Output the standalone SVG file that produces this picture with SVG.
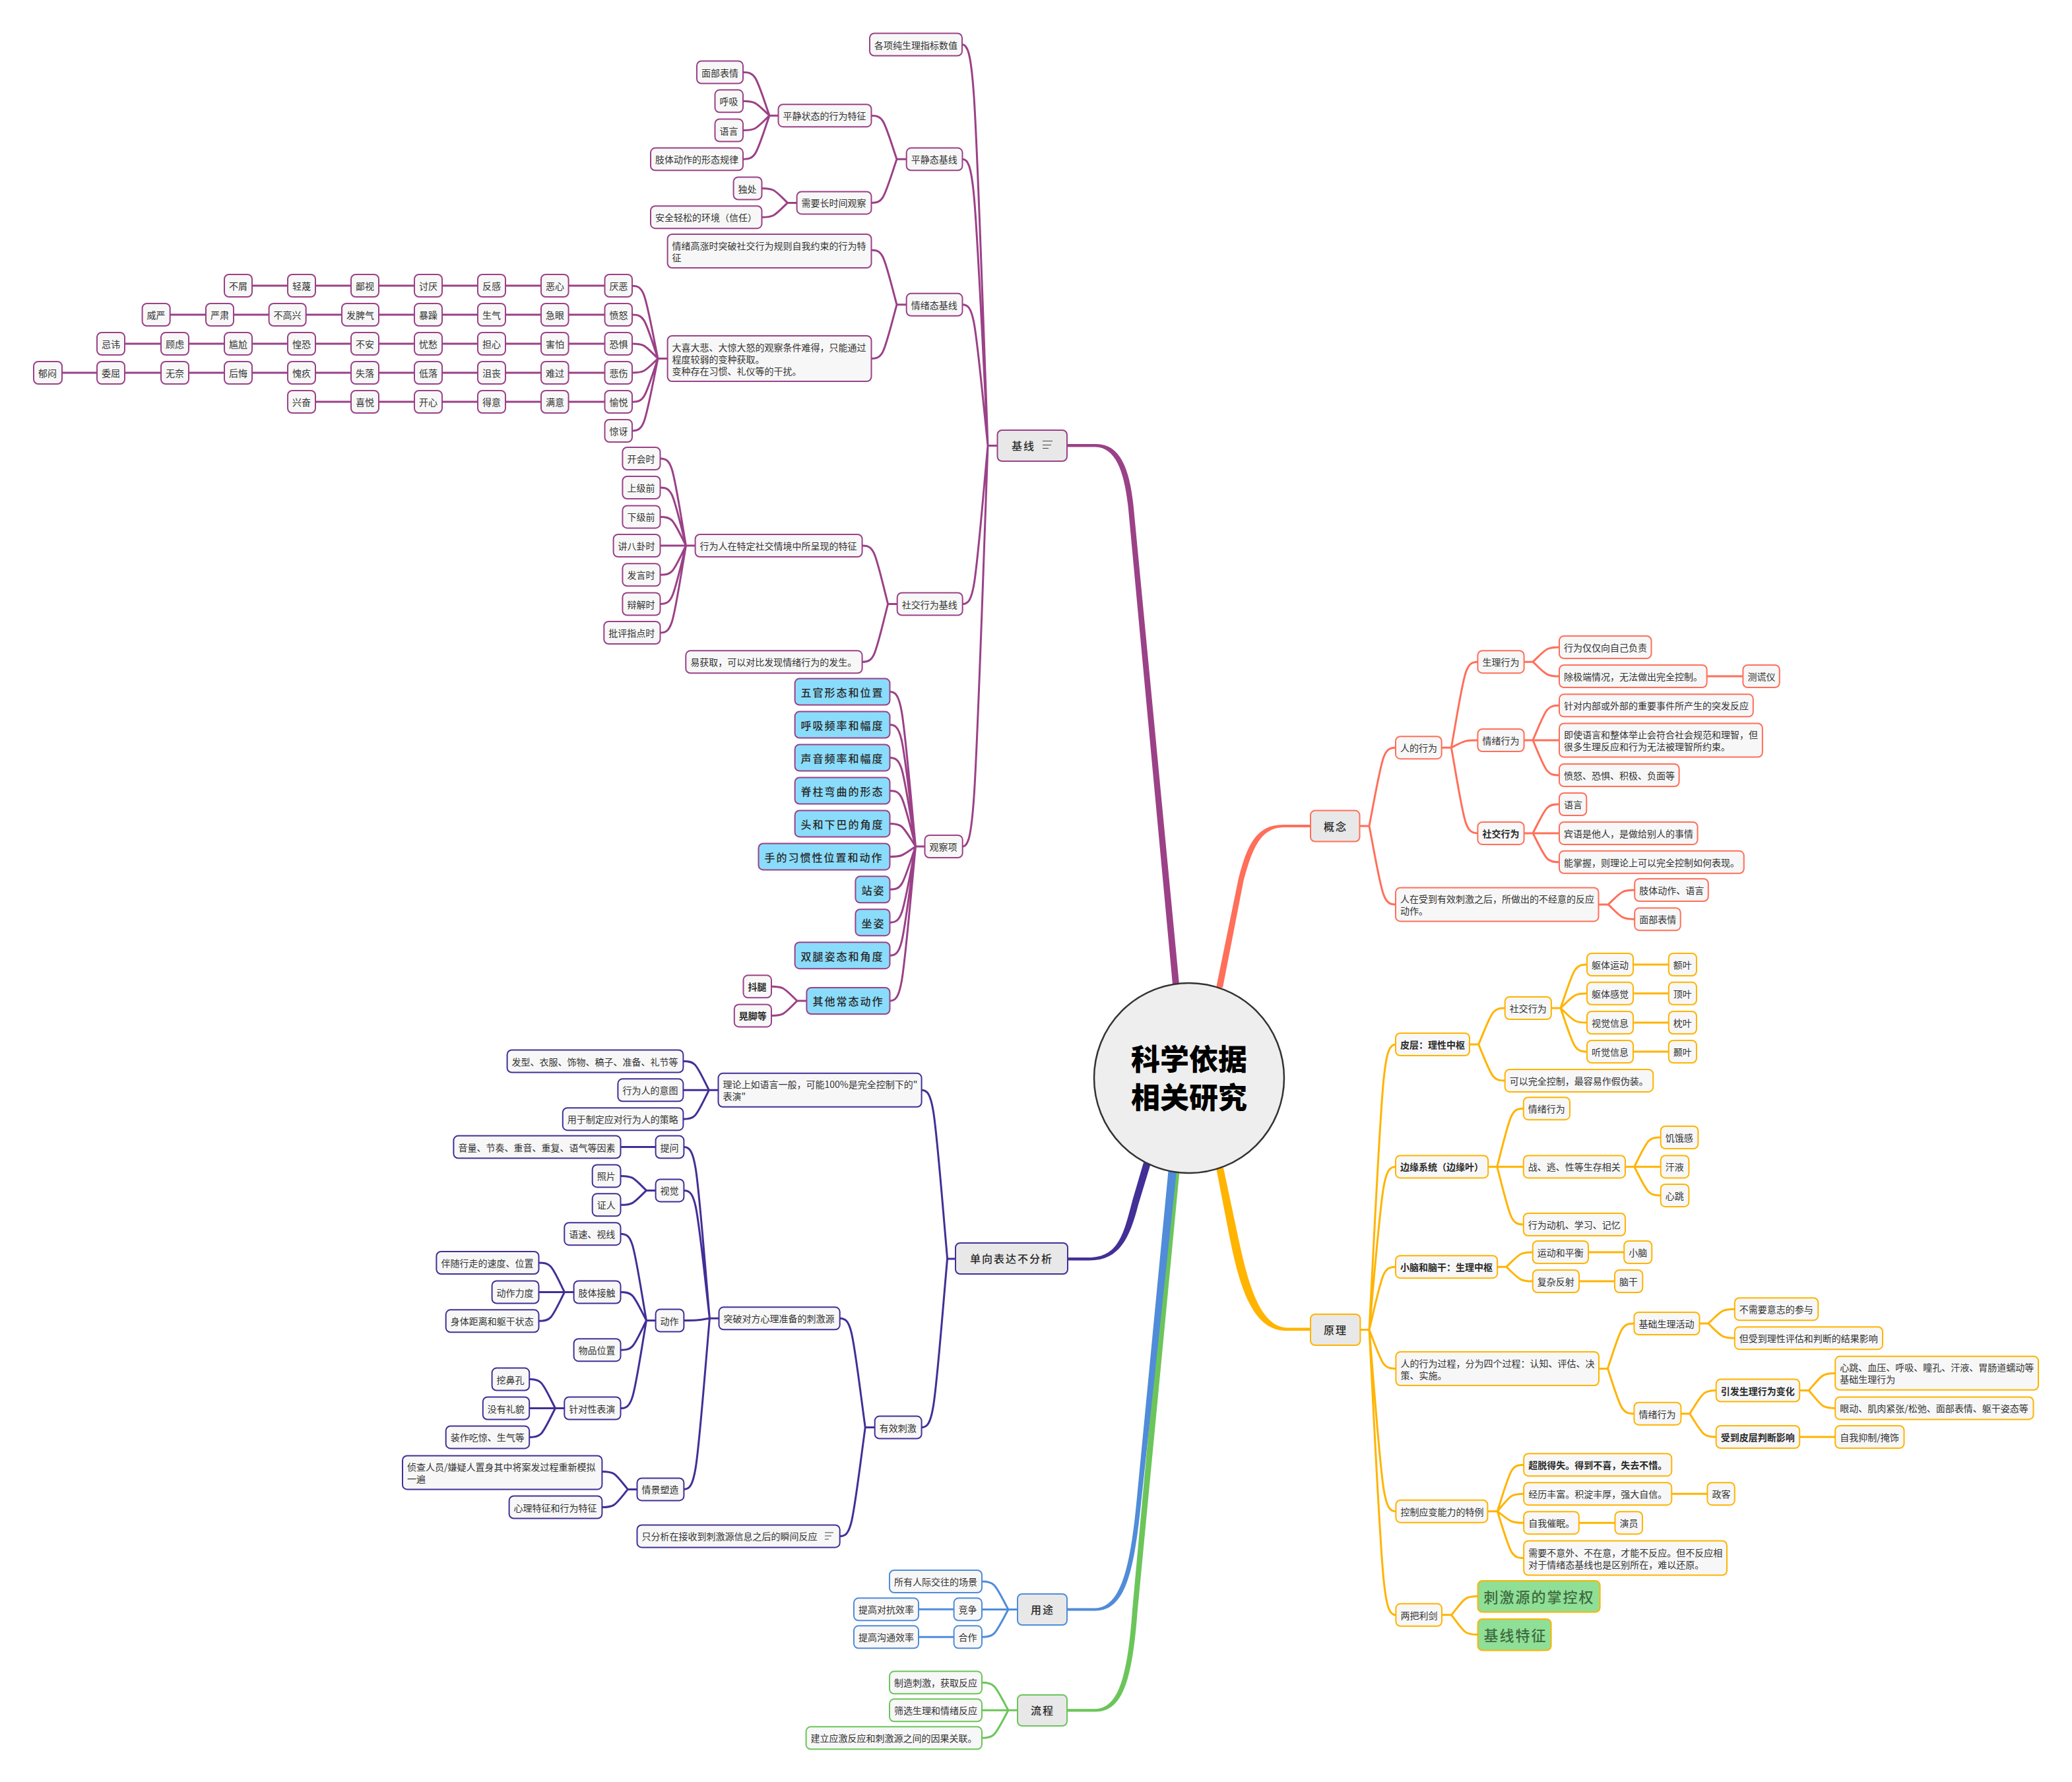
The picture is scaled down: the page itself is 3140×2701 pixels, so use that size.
<svg xmlns="http://www.w3.org/2000/svg" width="3140" height="2701" viewBox="0 0 3140 2701">
<style>
text{font-family:"Noto Sans CJK SC","Noto Sans",sans-serif;font-size:14px;fill:#333;transform:translateY(1px)}
rect{rx:7px;fill:#f7f7f7;stroke-width:2}
.pu rect{stroke:#9b4187}.na rect{stroke:#432f96}.bl rect{stroke:#508cd9}.gr rect{stroke:#6cc55a}.re rect{stroke:#ff6f5a}.or rect{stroke:#ffb400}
.cp{stroke:#9b4187}.cn{stroke:#432f96}.cb{stroke:#508cd9}.cg{stroke:#6cc55a}.cr{stroke:#ff6f5a}.co{stroke:#ffb400}
#connectors path{fill:none;stroke-width:3;stroke-linecap:round}
#connectors path.fp{fill:#9b4187;stroke:none}
#connectors path.fn{fill:#432f96;stroke:none}
#connectors path.fb{fill:#508cd9;stroke:none}
#connectors path.fg{fill:#6cc55a;stroke:none}
#connectors path.fr{fill:#ff6f5a;stroke:none}
#connectors path.fo{fill:#ffb400;stroke:none}
rect.top{fill:#e8e8e8}
rect.sky{fill:#8adcfb}
rect.lime{fill:#8fdf97}
.h{font-size:16px;letter-spacing:2px;font-weight:500;fill:#2a2a2a}
.g{font-size:22px;letter-spacing:2px;font-weight:500;fill:#3f6b3f}
.b{font-weight:700;fill:#2a2a2a}
.ic{stroke:#444;stroke-width:1.2;fill:none}
#root circle{fill:#eee;stroke:#333;stroke-width:2.5}
#root text{font-size:44px;font-weight:900;fill:#000;text-anchor:middle}
</style>
<g id="connectors">
<g class="cp">
<path class="fp" d="M1617 673H1660C1698 672 1712.5 712 1718 770L1787 1492H1777L1710 772C1704.5 718 1692 678 1660 677.5H1617Z"/>
<path class="cp" d="M1511.5 675.5H1497M1458 67.5c19.5 0 19.5 73 39 608M1458.5 241.3c19 0 19 52 38.5 434M1458.5 461.8c19 0 19 26 38.5 213.7M1458.7 915.5c19 0 19 -29 38.3 -240M1458.7 1283c19 0 19 -73 38.3 -607.5"/>
<path class="cp" d="M1373.7 241.3H1359M1320.5 175.2c19 0 19 8 38.5 66.1M1320.5 307.4c19 0 19 -8 38.5 -66.1"/>
<path class="cp" d="M1179.5 175.2H1166M1126 109.5c20 0 20 8 40 65.7M1126 153.3c20 0 20 3 40 21.9M1126 197.5c20 0 20 -3 40 -22.3M1126 241.3c20 0 20 -8 40 -66.1"/>
<path class="cp" d="M1207.6 307.4H1193.5M1154.5 285.5c19.5 0 19.5 3 39 21.9M1154.5 329.2c19.5 0 19.5 -3 39 -21.8"/>
<path class="cp" d="M1373.7 461.8H1359M1320.5 379c19 0 19 10 38.5 82.8M1320.5 543.5c19 0 19 -10 38.5 -81.7"/>
<path class="cp" d="M1011.6 543.5H997M958 433.2c19.5 0 19.5 13 39 110.3M958 477.1c19.5 0 19.5 8 39 66.4M958 521c19.5 0 19.5 3 39 22.5M958 564.9c19.5 0 19.5 -3 39 -21.4M958 609.2c19.5 0 19.5 -8 39 -65.7M958 653c19.5 0 19.5 -13 39 -109.5"/>
<path class="cp" d="M861.6 433H916.5M766 433H820M670 433H724M574 433H628M478 433H532M382 433H436"/>
<path class="cp" d="M861.6 477H916.5M766 477H820M670 477H724M574 477H628M463.7 477H518M354 477H407.6M257.7 477H312"/>
<path class="cp" d="M861.6 521H916.5M766 521H820M670 521H724M574 521H628M478 521H532M382 521H436M286 521H340M189 521H244"/>
<path class="cp" d="M861.6 565H916.5M766 565H820M670 565H724M574 565H628M478 565H532M382 565H436M286 565H340M189 565H244M94 565H147"/>
<path class="cp" d="M861.6 609H916.5M766 609H820M670 609H724M574 609H628M478 609H532"/>
<path class="cp" d="M1359.7 915.5H1345.5M1306.6 827c19.5 0 19.5 11 39 88.5M1306.6 1003.3c19.5 0 19.5 -11 39 -87.8"/>
<path class="cp" d="M1053.6 827H1000.5M1000.5 695c19.5 0 19.5 16 39 132M1000.5 739c19.5 0 19.5 11 39 88M1000.5 783.4c19.5 0 19.5 5 39 43.6M1000.5 871.3c19.5 0 19.5 -5 39 -44.3M1000.5 915.5c19.5 0 19.5 -11 39 -88.5M1000.5 959c19.5 0 19.5 -16 39 -132"/>
<path class="cp" d="M1401.5 1283H1387.5M1348.5 1048.6c19.5 0 19.5 28 39 234.4M1348.5 1098.6c19.5 0 19.5 22 39 184.4M1348.5 1148.5c19.5 0 19.5 16 39 134.5M1348.5 1198.5c19.5 0 19.5 10 39 84.5M1348.5 1248.4c19.5 0 19.5 4 39 34.6M1348.5 1298.4c19.5 0 19.5 -2 39 -15.4M1348.5 1348.3c19.5 0 19.5 -8 39 -65.3M1348.5 1398.2c19.5 0 19.5 -14 39 -115.2M1348.5 1448.2c19.5 0 19.5 -20 39 -165.2M1348.5 1517c19.5 0 19.5 -28 39 -234"/>
<path class="cp" d="M1222.4 1517H1208M1169 1495.3c19.5 0 19.5 3 39 21.7M1169 1539.4c19.5 0 19.5 -3 39 -22.4"/>
</g>
<g class="cn">
<path class="fn" d="M1618 1906H1650C1695 1906 1703 1870 1716 1820L1733 1762L1743.5 1765L1725 1826C1712 1876 1697 1911 1650 1910.5H1618Z"/>
<path class="cn" d="M1448 1908H1435.5M1396.6 1652.3c19.5 0 19.5 31 39 255.2M1396.6 2163.6c19.5 0 19.5 -31 39 -256.1"/>
<path class="cn" d="M1325.7 2163.6H1311M1272.7 1998.3c19 0 19 20 38.5 165.3M1272.7 2328.4c19 0 19 -20 38.5 -164.8"/>
<path class="cn" d="M1088.5 1652.3H1035.4M1035.4 1608.5c19.5 0 19.5 5 39 43.8M1035.4 1696.2c19.5 0 19.5 -5 39 -43.9"/>
<path class="cn" d="M1089.5 1998.3H1075.5M1036.4 1738.6c19.5 0 19.5 31 39 259.7M1036.4 1804.4c19.5 0 19.5 23 39 193.9M1036.4 2001.5c19.5 0 19.5 0 39 -3.2M1036.4 2257.4c19.5 0 19.5 -31 39 -259.1"/>
<path class="cn" d="M940.5 1738.6H993.6"/>
<path class="cn" d="M993.6 1804.4H979.5M940.5 1782.4c19.5 0 19.5 3 39 22M940.5 1826.3c19.5 0 19.5 -3 39 -21.9"/>
<path class="cn" d="M993.6 2001.5H979.5M940.5 1870.2c19.5 0 19.5 16 39 131.3M940.5 1958.5c19.5 0 19.5 5 39 43M940.5 2046.2c19.5 0 19.5 -5 39 -44.7M940.5 2134.5c19.5 0 19.5 -16 39 -133"/>
<path class="cn" d="M869.6 1958.5H816.5M816.5 1914c19.5 0 19.5 5 39 44.5M816.5 2002.3c19.5 0 19.5 -5 39 -43.8"/>
<path class="cn" d="M855.3 2134.5H802.2M802.2 2090.6c19.5 0 19.5 5 39.3 43.9M802.2 2178.4c19.5 0 19.5 -5 39.3 -43.9"/>
<path class="cn" d="M965.5 2257.4H951.5M912.4 2230.4c19.5 0 19.5 3 39 27M912.4 2284.5c19.5 0 19.5 -3 39 -27.1"/>
</g>
<g class="cg">
<path class="fg" d="M1617 2590.3H1660C1695 2589 1709 2540 1716 2440L1776.5 1775H1787.5L1724 2440C1716 2545 1702 2594.5 1660 2594.5H1617Z"/>
<path class="cg" d="M1542 2592.3H1488M1488 2550.3c20 0 20 5 40 42M1488 2634.3c20 0 20 -5 40 -42"/>
</g>
<g class="cb">
<path class="fb" d="M1617 2437.5H1660C1700 2436 1713 2370 1722 2280L1770.5 1775H1783L1729 2280C1718 2385 1705 2441 1660 2441.5H1617Z"/>
<path class="cb" d="M1542 2439.5H1488M1488 2397c20 0 20 5 40 42.5M1488 2481.3c20 0 20 -5 40 -41.8M1392 2439.3H1445.6M1392 2481.3H1445.6"/>
</g>
<g class="cr">
<path class="fr" d="M1986 1250H1945C1902 1249.5 1889 1285 1877 1331L1843 1497H1853L1884.5 1335C1897 1289 1909 1254.5 1945 1254H1986Z"/>
<path class="cr" d="M2060.5 1252H2075M2115 1133.2c-20 0 -20 14 -40 118.8M2115 1370.9c-20 0 -20 -14 -40 -118.9"/>
<path class="cr" d="M2184.7 1133.2H2199M2239.4 1003.2c-20 0 -20 16 -40 130M2239.4 1122c-20 0 -20 1 -40 11.2M2239.4 1262.9c-20 0 -20 -16 -40 -129.7"/>
<path class="cr" d="M2309.6 1003.2H2323M2363 981c-20 0 -20 3 -40 22.2M2363 1025c-20 0 -20 -3 -40 -21.8M2586.7 1025H2641.4"/>
<path class="cr" d="M2309.6 1122H2363M2363 1069.3c-20 0 -20 6 -40 52.7M2363 1175c-20 0 -20 -6 -40 -53"/>
<path class="cr" d="M2309.6 1262.9H2363M2363 1219c-20 0 -20 5 -40 43.9M2363 1306.8c-20 0 -20 -5 -40 -43.9"/>
<path class="cr" d="M2422.5 1370.9H2437M2477.2 1349c-20 0 -20 3 -40 21.9M2477.2 1393.2c-20 0 -20 -3 -40 -22.3"/>
</g>
<g class="co">
<path class="fo" d="M1843 1770H1854L1871 1850C1887 1925 1903 2010 1950 2012.5H1986V2017H1950C1893 2018 1875 1935 1860 1858Z"/>
<path class="co" d="M2061.4 2015.6H2075M2115 1583c-20 0 -20 52 -40 432.6M2115 1768.4c-20 0 -20 30 -40 247.2M2115 1920.2c-20 0 -20 11 -40 95.4M2115 2074.4c-20 0 -20 -7 -40 -58.8M2115 2290.7c-20 0 -20 -33 -40 -275.1M2115 2447.8c-20 0 -20 -52 -40 -432.2"/>
<path class="co" d="M2227 1583H2241M2280.7 1528c-20 0 -20 7 -40 55M2280.7 1637.9c-20 0 -20 -7 -40 -54.9"/>
<path class="co" d="M2350.9 1528H2365M2405 1462c-20 0 -20 8 -40 66M2405 1505.8c-20 0 -20 3 -40 22.2M2405 1550c-20 0 -20 -3 -40 -22M2405 1594c-20 0 -20 -8 -40 -66"/>
<path class="co" d="M2475 1462H2528.8M2475 1505.8H2528.8M2475 1550H2528.8M2475 1594H2528.8"/>
<path class="co" d="M2255.2 1768.4H2308.8M2308.8 1680.2c-20 0 -20 11 -40 88.2M2308.8 1856c-20 0 -20 -11 -40 -87.6"/>
<path class="co" d="M2463 1768.4H2516.7M2516.7 1724c-20 0 -20 5 -40 44.4M2516.7 1811.9c-20 0 -20 -5 -40 -43.5"/>
<path class="co" d="M2269.2 1920.2H2283M2322.8 1898c-20 0 -20 3 -40 22.2M2322.8 1942c-20 0 -20 -3 -40 -21.8M2407 1898H2461.2M2393 1942H2447"/>
<path class="co" d="M2423 2074.4H2437M2476.4 2006c-20 0 -20 8 -40 68.4M2476.4 2142.7c-20 0 -20 -8 -40 -68.3"/>
<path class="co" d="M2575.5 2006H2589M2628.8 1984.2c-20 0 -20 3 -40 21.8M2628.8 2028.2c-20 0 -20 -3 -40 -22.2"/>
<path class="co" d="M2547.4 2142.7H2561M2600.7 2107.5c-20 0 -20 4 -40 35.2M2600.7 2178c-20 0 -20 -4 -40 -35.3"/>
<path class="co" d="M2727.2 2107.5H2741M2781.2 2081.4c-20 0 -20 3 -40 26.1M2781.2 2134.4c-20 0 -20 -3 -40 -26.9M2727.2 2178H2781.2"/>
<path class="co" d="M2254.4 2290.7H2268.5M2309.2 2220.2c-20 0 -20 8 -40 70.5M2309.2 2264.2c-20 0 -20 3 -40 26.5M2309.2 2308.2c-20 0 -20 -2 -40 -17.5M2309.2 2361.5c-20 0 -20 -8 -40 -70.8M2533.3 2264.2H2587.4M2392.8 2308.2H2447.5"/>
<path class="co" d="M2185 2447.8H2199M2239.6 2419.6c-20 0 -20 3 -40 28.2M2239.6 2477.6c-20 0 -20 -3 -40 -29.8"/>
</g>
</g>
<g id="root"><circle cx="1802" cy="1634" r="144"/><text x="1802" y="1621">科学依据</text><text x="1802" y="1679">相关研究</text></g>

<g id="nodes-baseline" class="pu">
<g id="p0"><rect class="top" x="1511.5" y="652" width="105.5" height="47"/><text class="h" x="1533" y="681">基线</text><path class="ic" d="M1580 668.5H1595M1580 674.5H1593M1580 679.5H1589"/></g>
<g id="p1"><rect x="1318" y="50.5" width="140" height="34"/><text x="1325" y="72.5">各项纯生理指标数值</text></g>
<g id="p2"><rect x="1373.7" y="224.3" width="84.8" height="34"/><text x="1380.7" y="246.3">平静态基线</text></g>
<g id="p3"><rect x="1179.5" y="158.2" width="141" height="34"/><text x="1186.5" y="180.2">平静状态的行为特征</text></g>
<g id="p4"><rect x="1056" y="92.5" width="70" height="34"/><text x="1063" y="114.5">面部表情</text></g>
<g id="p5"><rect x="1083.5" y="136.3" width="42.5" height="34"/><text x="1090.5" y="158.3">呼吸</text></g>
<g id="p6"><rect x="1083.5" y="180.5" width="42.5" height="34"/><text x="1090.5" y="202.5">语言</text></g>
<g id="p7"><rect x="986" y="224.3" width="140" height="34"/><text x="993" y="246.3">肢体动作的形态规律</text></g>
<g id="p8"><rect x="1207.6" y="290.4" width="112.9" height="34"/><text x="1214.6" y="312.4">需要长时间观察</text></g>
<g id="p9"><rect x="1111.6" y="268.5" width="42.9" height="34"/><text x="1118.6" y="290.5">独处</text></g>
<g id="p10"><rect x="986" y="312.2" width="168.5" height="34"/><text x="993" y="334.2">安全轻松的环境（信任）</text></g>
<g id="p11"><rect x="1373.7" y="444.8" width="84.8" height="34"/><text x="1380.7" y="466.8">情绪态基线</text></g>
<g id="p12"><rect x="1011.6" y="355" width="308.9" height="51"/><text x="1018.6" y="376.5">情绪高涨时突破社交行为规则自我约束的行为特</text><text x="1018.6" y="394.5">征</text></g>
<g id="p13"><rect x="1011.6" y="509" width="308.9" height="69"/><text x="1018.6" y="530.5">大喜大悲、大惊大怒的观察条件难得，只能通过</text><text x="1018.6" y="548.5">程度较弱的变种获取。</text><text x="1018.6" y="566.5">变种存在习惯、礼仪等的干扰。</text></g>
<g id="p14"><rect x="916.5" y="416" width="41.5" height="34"/><text x="923.5" y="438">厌恶</text></g>
<g id="p15"><rect x="820" y="416" width="41.6" height="34"/><text x="827" y="438">恶心</text></g>
<g id="p16"><rect x="724" y="416" width="42" height="34"/><text x="731" y="438">反感</text></g>
<g id="p17"><rect x="628" y="416" width="42" height="34"/><text x="635" y="438">讨厌</text></g>
<g id="p18"><rect x="532" y="416" width="42" height="34"/><text x="539" y="438">鄙视</text></g>
<g id="p19"><rect x="436" y="416" width="42" height="34"/><text x="443" y="438">轻蔑</text></g>
<g id="p20"><rect x="340" y="416" width="42" height="34"/><text x="347" y="438">不屑</text></g>
<g id="p21"><rect x="916.5" y="460" width="41.5" height="34"/><text x="923.5" y="482">愤怒</text></g>
<g id="p22"><rect x="820" y="460" width="41.6" height="34"/><text x="827" y="482">急眼</text></g>
<g id="p23"><rect x="724" y="460" width="42" height="34"/><text x="731" y="482">生气</text></g>
<g id="p24"><rect x="628" y="460" width="42" height="34"/><text x="635" y="482">暴躁</text></g>
<g id="p25"><rect x="518" y="460" width="56" height="34"/><text x="525" y="482">发脾气</text></g>
<g id="p26"><rect x="407.6" y="460" width="56.1" height="34"/><text x="414.6" y="482">不高兴</text></g>
<g id="p27"><rect x="312" y="460" width="42" height="34"/><text x="319" y="482">严肃</text></g>
<g id="p28"><rect x="215.6" y="460" width="42.1" height="34"/><text x="222.6" y="482">威严</text></g>
<g id="p29"><rect x="916.5" y="504" width="41.5" height="34"/><text x="923.5" y="526">恐惧</text></g>
<g id="p30"><rect x="820" y="504" width="41.6" height="34"/><text x="827" y="526">害怕</text></g>
<g id="p31"><rect x="724" y="504" width="42" height="34"/><text x="731" y="526">担心</text></g>
<g id="p32"><rect x="628" y="504" width="42" height="34"/><text x="635" y="526">忧愁</text></g>
<g id="p33"><rect x="532" y="504" width="42" height="34"/><text x="539" y="526">不安</text></g>
<g id="p34"><rect x="436" y="504" width="42" height="34"/><text x="443" y="526">惶恐</text></g>
<g id="p35"><rect x="340" y="504" width="42" height="34"/><text x="347" y="526">尴尬</text></g>
<g id="p36"><rect x="244" y="504" width="42" height="34"/><text x="251" y="526">顾虑</text></g>
<g id="p37"><rect x="147" y="504" width="42" height="34"/><text x="154" y="526">忌讳</text></g>
<g id="p38"><rect x="916.5" y="548" width="41.5" height="34"/><text x="923.5" y="570">悲伤</text></g>
<g id="p39"><rect x="820" y="548" width="41.6" height="34"/><text x="827" y="570">难过</text></g>
<g id="p40"><rect x="724" y="548" width="42" height="34"/><text x="731" y="570">沮丧</text></g>
<g id="p41"><rect x="628" y="548" width="42" height="34"/><text x="635" y="570">低落</text></g>
<g id="p42"><rect x="532" y="548" width="42" height="34"/><text x="539" y="570">失落</text></g>
<g id="p43"><rect x="436" y="548" width="42" height="34"/><text x="443" y="570">愧疚</text></g>
<g id="p44"><rect x="340" y="548" width="42" height="34"/><text x="347" y="570">后悔</text></g>
<g id="p45"><rect x="244" y="548" width="42" height="34"/><text x="251" y="570">无奈</text></g>
<g id="p46"><rect x="147" y="548" width="42" height="34"/><text x="154" y="570">委屈</text></g>
<g id="p47"><rect x="51" y="548" width="43" height="34"/><text x="58" y="570">郁闷</text></g>
<g id="p48"><rect x="916.5" y="592" width="41.5" height="34"/><text x="923.5" y="614">愉悦</text></g>
<g id="p49"><rect x="820" y="592" width="41.6" height="34"/><text x="827" y="614">满意</text></g>
<g id="p50"><rect x="724" y="592" width="42" height="34"/><text x="731" y="614">得意</text></g>
<g id="p51"><rect x="628" y="592" width="42" height="34"/><text x="635" y="614">开心</text></g>
<g id="p52"><rect x="532" y="592" width="42" height="34"/><text x="539" y="614">喜悦</text></g>
<g id="p53"><rect x="436" y="592" width="42" height="34"/><text x="443" y="614">兴奋</text></g>
<g id="p54"><rect x="916.5" y="636" width="41.5" height="34"/><text x="923.5" y="658">惊讶</text></g>
<g id="p55"><rect x="1359.7" y="898.5" width="99" height="34"/><text x="1366.7" y="920.5">社交行为基线</text></g>
<g id="p56"><rect x="1053.6" y="810" width="253" height="34"/><text x="1060.6" y="832">行为人在特定社交情境中所呈现的特征</text></g>
<g id="p57"><rect x="1039.3" y="986.3" width="267.3" height="34"/><text x="1046.3" y="1008.3">易获取，可以对比发现情绪行为的发生。</text></g>
<g id="p58"><rect x="943.4" y="678" width="57.1" height="34"/><text x="950.4" y="700">开会时</text></g>
<g id="p59"><rect x="943.4" y="722" width="57.1" height="34"/><text x="950.4" y="744">上级前</text></g>
<g id="p60"><rect x="943.4" y="766.4" width="57.1" height="34"/><text x="950.4" y="788.4">下级前</text></g>
<g id="p61"><rect x="929.6" y="810" width="70.9" height="34"/><text x="936.6" y="832">讲八卦时</text></g>
<g id="p62"><rect x="943.4" y="854.3" width="57.1" height="34"/><text x="950.4" y="876.3">发言时</text></g>
<g id="p63"><rect x="943.4" y="898.5" width="57.1" height="34"/><text x="950.4" y="920.5">辩解时</text></g>
<g id="p64"><rect x="915.3" y="942" width="85.2" height="34"/><text x="922.3" y="964">批评指点时</text></g>
<g id="p65"><rect x="1401.5" y="1266" width="57.2" height="34"/><text x="1408.5" y="1288">观察项</text></g>
<g id="p66"><rect class="sky" x="1204.6" y="1028.6" width="143.9" height="40"/><text class="h" x="1213.6" y="1054.5">五官形态和位置</text></g>
<g id="p67"><rect class="sky" x="1204.6" y="1078.6" width="143.9" height="40"/><text class="h" x="1213.6" y="1104.5">呼吸频率和幅度</text></g>
<g id="p68"><rect class="sky" x="1204.6" y="1128.5" width="143.9" height="40"/><text class="h" x="1213.6" y="1154.5">声音频率和幅度</text></g>
<g id="p69"><rect class="sky" x="1204.6" y="1178.5" width="143.9" height="40"/><text class="h" x="1213.6" y="1204.5">脊柱弯曲的形态</text></g>
<g id="p70"><rect class="sky" x="1204.6" y="1228.4" width="143.9" height="40"/><text class="h" x="1213.6" y="1254.5">头和下巴的角度</text></g>
<g id="p71"><rect class="sky" x="1149.5" y="1278.4" width="199" height="40"/><text class="h" x="1158.5" y="1304.5">手的习惯性位置和动作</text></g>
<g id="p72"><rect class="sky" x="1296.4" y="1328.3" width="52.1" height="40"/><text class="h" x="1305.4" y="1354.5">站姿</text></g>
<g id="p73"><rect class="sky" x="1296.4" y="1378.2" width="52.1" height="40"/><text class="h" x="1305.4" y="1404.5">坐姿</text></g>
<g id="p74"><rect class="sky" x="1204.6" y="1428.2" width="143.9" height="40"/><text class="h" x="1213.6" y="1454.5">双腿姿态和角度</text></g>
<g id="p75"><rect class="sky" x="1222.4" y="1497" width="126.1" height="40"/><text class="h" x="1231.4" y="1523">其他常态动作</text></g>
<g id="p76"><rect x="1126.5" y="1478.3" width="42.5" height="34"/><text class="b" x="1133.5" y="1500.3">抖腿</text></g>
<g id="p77"><rect x="1112.8" y="1522.4" width="56.2" height="34"/><text class="b" x="1119.8" y="1544.4">晃脚等</text></g>
</g>

<g id="nodes-expression" class="na">
<g id="a0"><rect class="top" x="1448" y="1884" width="170" height="47"/><text class="h" x="1470" y="1913">单向表达不分析</text></g>
<g id="a1"><rect x="1088.5" y="1626.8" width="308.1" height="51"/><text x="1095.5" y="1648.3">理论上如语言一般，可能100%是完全控制下的"</text><text x="1095.5" y="1666.3">表演"</text></g>
<g id="a2"><rect x="768.6" y="1591.5" width="266.8" height="34"/><text x="775.6" y="1613.5">发型、衣服、饰物、稿子、准备、礼节等</text></g>
<g id="a3"><rect x="936.4" y="1635.3" width="99" height="34"/><text x="943.4" y="1657.3">行为人的意图</text></g>
<g id="a4"><rect x="852.8" y="1679.2" width="182.6" height="34"/><text x="859.8" y="1701.2">用于制定应对行为人的策略</text></g>
<g id="a5"><rect x="1325.7" y="2146.6" width="70.9" height="34"/><text x="1332.7" y="2168.6">有效刺激</text></g>
<g id="a6"><rect x="1089.5" y="1981.3" width="183.2" height="34"/><text x="1096.5" y="2003.3">突破对方心理准备的刺激源</text></g>
<g id="a7"><rect x="965.5" y="2311.4" width="307.2" height="34"/><text x="972.5" y="2333.4">只分析在接收到刺激源信息之后的瞬间反应</text><path class="ic" d="M1250 2323H1263M1250 2328H1260M1250 2333H1256"/></g>
<g id="a8"><rect x="993.6" y="1721.6" width="42.8" height="34"/><text x="1000.6" y="1743.6">提问</text></g>
<g id="a9"><rect x="687.4" y="1721.6" width="253.1" height="34"/><text x="694.4" y="1743.6">音量、节奏、重音、重复、语气等因素</text></g>
<g id="a10"><rect x="993.6" y="1787.4" width="42.8" height="34"/><text x="1000.6" y="1809.4">视觉</text></g>
<g id="a11"><rect x="897.7" y="1765.4" width="42.8" height="34"/><text x="904.7" y="1787.4">照片</text></g>
<g id="a12"><rect x="897.7" y="1809.3" width="42.8" height="34"/><text x="904.7" y="1831.3">证人</text></g>
<g id="a13"><rect x="993.6" y="1984.5" width="42.8" height="34"/><text x="1000.6" y="2006.5">动作</text></g>
<g id="a14"><rect x="855.3" y="1853.2" width="85.2" height="34"/><text x="862.3" y="1875.2">语速、视线</text></g>
<g id="a15"><rect x="869.6" y="1941.5" width="70.9" height="34"/><text x="876.6" y="1963.5">肢体接触</text></g>
<g id="a16"><rect x="661.4" y="1897" width="155.1" height="34"/><text x="668.4" y="1919">伴随行走的速度、位置</text></g>
<g id="a17"><rect x="745.6" y="1941.5" width="70.9" height="34"/><text x="752.6" y="1963.5">动作力度</text></g>
<g id="a18"><rect x="675.7" y="1985.3" width="140.8" height="34"/><text x="682.7" y="2007.3">身体距离和躯干状态</text></g>
<g id="a19"><rect x="869.6" y="2029.2" width="70.9" height="34"/><text x="876.6" y="2051.2">物品位置</text></g>
<g id="a20"><rect x="855.3" y="2117.5" width="85.2" height="34"/><text x="862.3" y="2139.5">针对性表演</text></g>
<g id="a21"><rect x="745.6" y="2073.6" width="56.6" height="34"/><text x="752.6" y="2095.6">挖鼻孔</text></g>
<g id="a22"><rect x="731.8" y="2117.5" width="70.4" height="34"/><text x="738.8" y="2139.5">没有礼貌</text></g>
<g id="a23"><rect x="675.7" y="2161.4" width="126.5" height="34"/><text x="682.7" y="2183.4">装作吃惊、生气等</text></g>
<g id="a24"><rect x="965.5" y="2240.4" width="70.9" height="34"/><text x="972.5" y="2262.4">情景塑造</text></g>
<g id="a25"><rect x="610" y="2206.4" width="302.4" height="51"/><text x="617" y="2227.9">侦查人员/嫌疑人置身其中将案发过程重新模拟</text><text x="617" y="2245.9">一遍</text></g>
<g id="a26"><rect x="771.6" y="2267.5" width="140.8" height="34"/><text x="778.6" y="2289.5">心理特征和行为特征</text></g>
</g>

<g id="nodes-use" class="bl">
<g id="u0"><rect class="top" x="1542" y="2416" width="75" height="47"/><text class="h" x="1562" y="2445">用途</text></g>
<g id="u1"><rect x="1348" y="2380" width="140" height="34"/><text x="1355" y="2402">所有人际交往的场景</text></g>
<g id="u2"><rect x="1445.6" y="2422.3" width="42.4" height="34"/><text x="1452.6" y="2444.3">竞争</text></g>
<g id="u3"><rect x="1294" y="2422.3" width="98" height="34"/><text x="1301" y="2444.3">提高对抗效率</text></g>
<g id="u4"><rect x="1445.6" y="2464.3" width="42.4" height="34"/><text x="1452.6" y="2486.3">合作</text></g>
<g id="u5"><rect x="1294" y="2464.3" width="98" height="34"/><text x="1301" y="2486.3">提高沟通效率</text></g>
</g>

<g id="nodes-flow" class="gr">
<g id="f0"><rect class="top" x="1542" y="2569" width="75" height="47"/><text class="h" x="1562" y="2598">流程</text></g>
<g id="f1"><rect x="1348" y="2533.3" width="140" height="34"/><text x="1355" y="2555.3">制造刺激，获取反应</text></g>
<g id="f2"><rect x="1348" y="2575.3" width="140" height="34"/><text x="1355" y="2597.3">筛选生理和情绪反应</text></g>
<g id="f3"><rect x="1221.6" y="2617.3" width="266.4" height="34"/><text x="1228.6" y="2639.3">建立应激反应和刺激源之间的因果关联。</text></g>
</g>

<g id="nodes-concept" class="re">
<g id="r0"><rect class="top" x="1986" y="1228.6" width="74.5" height="47"/><text class="h" x="2006" y="1258">概念</text></g>
<g id="r1"><rect x="2115" y="1116.2" width="69.7" height="34"/><text x="2122" y="1138.2">人的行为</text></g>
<g id="r2"><rect x="2239.4" y="986.2" width="70.2" height="34"/><text x="2246.4" y="1008.2">生理行为</text></g>
<g id="r3"><rect x="2363" y="964" width="139.5" height="34"/><text x="2370" y="986">行为仅仅向自己负责</text></g>
<g id="r4"><rect x="2363" y="1008" width="223.7" height="34"/><text x="2370" y="1030">除极端情况，无法做出完全控制。</text></g>
<g id="r5"><rect x="2641.4" y="1008" width="55.4" height="34"/><text x="2648.4" y="1030">测谎仪</text></g>
<g id="r6"><rect x="2239.4" y="1105" width="70.2" height="34"/><text x="2246.4" y="1127">情绪行为</text></g>
<g id="r7"><rect x="2363" y="1052.3" width="293.8" height="34"/><text x="2370" y="1074.3">针对内部或外部的重要事件所产生的突发反应</text></g>
<g id="r8"><rect x="2363" y="1096.5" width="307.9" height="51"/><text x="2370" y="1118">即使语言和整体举止会符合社会规范和理智，但</text><text x="2370" y="1136">很多生理反应和行为无法被理智所约束。</text></g>
<g id="r9"><rect x="2363" y="1158" width="181.6" height="34"/><text x="2370" y="1180">愤怒、恐惧、积极、负面等</text></g>
<g id="r10"><rect x="2239.4" y="1245.9" width="70.2" height="34"/><text class="b" x="2246.4" y="1267.9">社交行为</text></g>
<g id="r11"><rect x="2363" y="1202" width="41.3" height="34"/><text x="2370" y="1224">语言</text></g>
<g id="r12"><rect x="2363" y="1245.9" width="209.6" height="34"/><text x="2370" y="1267.9">宾语是他人，是做给别人的事情</text></g>
<g id="r13"><rect x="2363" y="1289.8" width="279.8" height="34"/><text x="2370" y="1311.8">能掌握，则理论上可以完全控制如何表现。</text></g>
<g id="r14"><rect x="2115" y="1345.4" width="307.5" height="51"/><text x="2122" y="1366.9">人在受到有效刺激之后，所做出的不经意的反应</text><text x="2122" y="1384.9">动作。</text></g>
<g id="r15"><rect x="2477.2" y="1332" width="111.6" height="34"/><text x="2484.2" y="1354">肢体动作、语言</text></g>
<g id="r16"><rect x="2477.2" y="1376.2" width="69.5" height="34"/><text x="2484.2" y="1398.2">面部表情</text></g>
</g>

<g id="nodes-principle" class="or">
<g id="o0"><rect class="top" x="1986" y="1992" width="75.4" height="47"/><text class="h" x="2006" y="2021">原理</text></g>
<g id="o1"><rect x="2115" y="1566" width="112" height="34"/><text class="b" x="2122" y="1588">皮层：理性中枢</text></g>
<g id="o2"><rect x="2280.7" y="1511" width="70.2" height="34"/><text x="2287.7" y="1533">社交行为</text></g>
<g id="o3"><rect x="2405" y="1445" width="70" height="34"/><text x="2412" y="1467">躯体运动</text></g>
<g id="o4"><rect x="2528.8" y="1445" width="42.2" height="34"/><text x="2535.8" y="1467">额叶</text></g>
<g id="o5"><rect x="2405" y="1488.8" width="70" height="34"/><text x="2412" y="1510.8">躯体感觉</text></g>
<g id="o6"><rect x="2528.8" y="1488.8" width="42.2" height="34"/><text x="2535.8" y="1510.8">顶叶</text></g>
<g id="o7"><rect x="2405" y="1533" width="70" height="34"/><text x="2412" y="1555">视觉信息</text></g>
<g id="o8"><rect x="2528.8" y="1533" width="42.2" height="34"/><text x="2535.8" y="1555">枕叶</text></g>
<g id="o9"><rect x="2405" y="1577" width="70" height="34"/><text x="2412" y="1599">听觉信息</text></g>
<g id="o10"><rect x="2528.8" y="1577" width="42.2" height="34"/><text x="2535.8" y="1599">颞叶</text></g>
<g id="o11"><rect x="2280.7" y="1620.9" width="224.5" height="34"/><text x="2287.7" y="1642.9">可以完全控制，最容易作假伪装。</text></g>
<g id="o12"><rect x="2115" y="1751.4" width="140.2" height="34"/><text class="b" x="2122" y="1773.4">边缘系统（边缘叶）</text></g>
<g id="o13"><rect x="2308.8" y="1663.2" width="70.2" height="34"/><text x="2315.8" y="1685.2">情绪行为</text></g>
<g id="o14"><rect x="2308.8" y="1751.4" width="154.2" height="34"/><text x="2315.8" y="1773.4">战、逃、性等生存相关</text></g>
<g id="o15"><rect x="2516.7" y="1707" width="56.7" height="34"/><text x="2523.7" y="1729">饥饿感</text></g>
<g id="o16"><rect x="2516.7" y="1751.4" width="42.7" height="34"/><text x="2523.7" y="1773.4">汗液</text></g>
<g id="o17"><rect x="2516.7" y="1794.9" width="42.7" height="34"/><text x="2523.7" y="1816.9">心跳</text></g>
<g id="o18"><rect x="2308.8" y="1839" width="154.2" height="34"/><text x="2315.8" y="1861">行为动机、学习、记忆</text></g>
<g id="o19"><rect x="2115" y="1903.2" width="154.2" height="34"/><text class="b" x="2122" y="1925.2">小脑和脑干：生理中枢</text></g>
<g id="o20"><rect x="2322.8" y="1881" width="84.2" height="34"/><text x="2329.8" y="1903">运动和平衡</text></g>
<g id="o21"><rect x="2461.2" y="1881" width="42.1" height="34"/><text x="2468.2" y="1903">小脑</text></g>
<g id="o22"><rect x="2322.8" y="1925" width="70.2" height="34"/><text x="2329.8" y="1947">复杂反射</text></g>
<g id="o23"><rect x="2447" y="1925" width="42.3" height="34"/><text x="2454" y="1947">脑干</text></g>
<g id="o24"><rect x="2115.4" y="2049" width="307.6" height="51"/><text x="2122.4" y="2070.5">人的行为过程，分为四个过程：认知、评估、决</text><text x="2122.4" y="2088.5">策、实施。</text></g>
<g id="o25"><rect x="2476.4" y="1989" width="99.1" height="34"/><text x="2483.4" y="2011">基础生理活动</text></g>
<g id="o26"><rect x="2628.8" y="1967.2" width="126.5" height="34"/><text x="2635.8" y="1989.2">不需要意志的参与</text></g>
<g id="o27"><rect x="2628.8" y="2011.2" width="224.2" height="34"/><text x="2635.8" y="2033.2">但受到理性评估和判断的结果影响</text></g>
<g id="o28"><rect x="2476.4" y="2125.7" width="71" height="34"/><text x="2483.4" y="2147.7">情绪行为</text></g>
<g id="o29"><rect x="2600.7" y="2090.5" width="126.5" height="34"/><text class="b" x="2607.7" y="2112.5">引发生理行为变化</text></g>
<g id="o30"><rect x="2781.2" y="2055.8" width="307.8" height="51"/><text x="2788.2" y="2077.3">心跳、血压、呼吸、瞳孔、汗液、胃肠道蠕动等</text><text x="2788.2" y="2095.3">基础生理行为</text></g>
<g id="o31"><rect x="2781.2" y="2117.4" width="300.3" height="34"/><text x="2788.2" y="2139.4">眼动、肌肉紧张/松弛、面部表情、躯干姿态等</text></g>
<g id="o32"><rect x="2600.7" y="2161" width="126.5" height="34"/><text class="b" x="2607.7" y="2183">受到皮层判断影响</text></g>
<g id="o33"><rect x="2781.2" y="2161" width="104.3" height="34"/><text x="2788.2" y="2183">自我抑制/掩饰</text></g>
<g id="o34"><rect x="2115.4" y="2273.7" width="139" height="34"/><text x="2122.4" y="2295.7">控制应变能力的特例</text></g>
<g id="o35"><rect x="2309.2" y="2203.2" width="224.1" height="34"/><text class="b" x="2316.2" y="2225.2">超脱得失。得到不喜，失去不惜。</text></g>
<g id="o36"><rect x="2309.2" y="2247.2" width="224.1" height="34"/><text x="2316.2" y="2269.2">经历丰富。积淀丰厚，强大自信。</text></g>
<g id="o37"><rect x="2587.4" y="2247.2" width="41.4" height="34"/><text x="2594.4" y="2269.2">政客</text></g>
<g id="o38"><rect x="2309.2" y="2291.2" width="83.6" height="34"/><text x="2316.2" y="2313.2">自我催眠。</text></g>
<g id="o39"><rect x="2447.5" y="2291.2" width="41.5" height="34"/><text x="2454.5" y="2313.2">演员</text></g>
<g id="o40"><rect x="2309.2" y="2335.5" width="307.8" height="52"/><text x="2316.2" y="2357.5">需要不意外、不在意，才能不反应。但不反应相</text><text x="2316.2" y="2375.5">对于情绪态基线也是区别所在，难以还原。</text></g>
<g id="o41"><rect x="2115.4" y="2430.8" width="69.6" height="34"/><text x="2122.4" y="2452.8">两把利剑</text></g>
<g id="o42"><rect class="lime" x="2239.6" y="2396" width="185" height="47.5"/><text class="g" x="2248.5" y="2428">刺激源的掌控权</text></g>
<g id="o43"><rect class="lime" x="2239.6" y="2454" width="111" height="47.5"/><text class="g" x="2248.5" y="2486">基线特征</text></g>
</g>
</svg>
